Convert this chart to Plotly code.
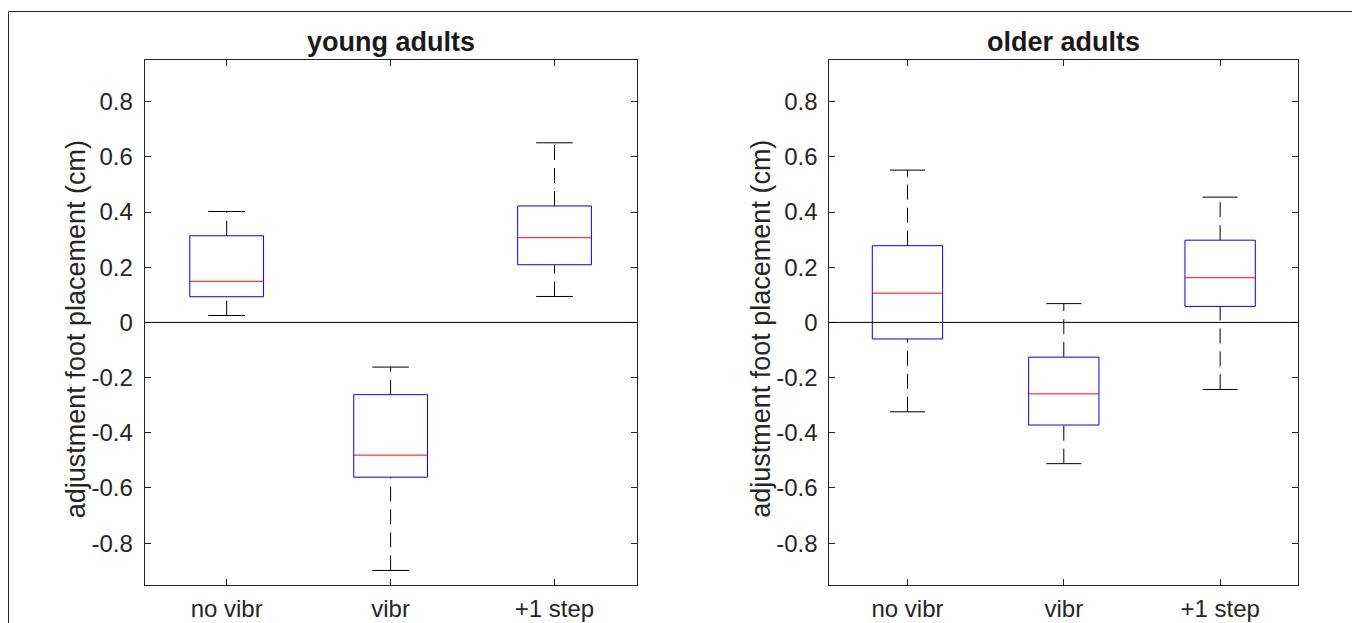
import plotly.graph_objects as go

# ---------------- data ----------------
categories = ["no vibr", "vibr", "+1 step"]
panel_titles = ["young adults", "older adults"]
y_label = "adjustment foot placement (cm)"

young_lower = [0.025, -0.899, 0.094]
young_q1 = [0.093, -0.561, 0.209]
young_median = [0.149, -0.481, 0.307]
young_q3 = [0.314, -0.262, 0.422]
young_upper = [0.402, -0.162, 0.651]

older_lower = [-0.324, -0.512, -0.243]
older_q1 = [-0.060, -0.372, 0.058]
older_median = [0.106, -0.259, 0.162]
older_q3 = [0.278, -0.126, 0.298]
older_upper = [0.552, 0.068, 0.454]

y_tick_values = [-0.8, -0.6, -0.4, -0.2, 0, 0.2, 0.4, 0.6, 0.8]
y_tick_labels = ["-0.8", "-0.6", "-0.4", "-0.2", "0", "0.2", "0.4", "0.6", "0.8"]

# ---------------- style ----------------
W, H = 1360, 623
OFF = 8  # page body margin: figure pixel = screen pixel - OFF
AX_COLOR = "#262626"
FONT = "Liberation Sans, Arial, Helvetica, sans-serif"
TICK_SIZE = 24
LABEL_SIZE = 27
BOX_HALF = 0.225
CAP_HALF = 0.112
DASH = "15px,8px"


def fx(sx):
    return (sx - OFF) / W


def fy(sy):
    return 1 - (sy - OFF) / H


panels = [
    dict(lower=young_lower, q1=young_q1, med=young_median, q3=young_q3, upper=young_upper,
         xa="x", ya="y", px0=144.7, px1=636.5),
    dict(lower=older_lower, q1=older_q1, med=older_median, q3=older_q3, upper=older_upper,
         xa="x2", ya="y2", px0=829.3, px1=1298.3),
]
py_top, py_bot = 60.3, 584.5

fig = go.Figure()

for p in panels:
    xs = list(range(1, len(categories) + 1))
    bx, by, mx, my, cx, cy = [], [], [], [], [], []
    for i, x in enumerate(xs):
        bx += [x - BOX_HALF, x + BOX_HALF, x + BOX_HALF, x - BOX_HALF, x - BOX_HALF, None]
        by += [p["q1"][i], p["q1"][i], p["q3"][i], p["q3"][i], p["q1"][i], None]
        mx += [x - BOX_HALF, x + BOX_HALF, None]
        my += [p["med"][i], p["med"][i], None]
        cx += [x - CAP_HALF, x + CAP_HALF, None, x - CAP_HALF, x + CAP_HALF, None]
        cy += [p["lower"][i], p["lower"][i], None, p["upper"][i], p["upper"][i], None]
        # whiskers (dashed), drawn upward like MATLAB
        for y0, y1 in ((p["lower"][i], p["q1"][i]), (p["q3"][i], p["upper"][i])):
            fig.add_trace(go.Scatter(x=[x, x], y=[y0, y1], mode="lines",
                                     line=dict(color="black", width=1, dash=DASH),
                                     xaxis=p["xa"], yaxis=p["ya"], hoverinfo="skip",
                                     showlegend=False))
    fig.add_trace(go.Scatter(x=cx, y=cy, mode="lines", line=dict(color="black", width=1),
                             xaxis=p["xa"], yaxis=p["ya"], hoverinfo="skip", showlegend=False))
    fig.add_trace(go.Scatter(x=bx, y=by, mode="lines", line=dict(color="#0000FF", width=1),
                             xaxis=p["xa"], yaxis=p["ya"], hoverinfo="skip", showlegend=False))
    fig.add_trace(go.Scatter(x=mx, y=my, mode="lines", line=dict(color="#FF0000", width=1),
                             xaxis=p["xa"], yaxis=p["ya"], hoverinfo="skip", showlegend=False))

axis_common = dict(
    showgrid=False, zeroline=False, showline=True, linecolor=AX_COLOR, linewidth=1,
    mirror="allticks", ticks="inside", ticklen=6, tickwidth=1, tickcolor=AX_COLOR,
    tickfont=dict(family=FONT, size=TICK_SIZE, color=AX_COLOR), fixedrange=True,
)

layout = dict(
    width=W, height=H, margin=dict(l=0, r=0, t=0, b=0),
    paper_bgcolor="white", plot_bgcolor="white", showlegend=False,
    font=dict(family=FONT, color=AX_COLOR),
    annotations=[], shapes=[],
)

for k, p in enumerate(panels):
    sfx = "" if k == 0 else str(k + 1)
    layout["xaxis" + sfx] = dict(
        axis_common, domain=[fx(p["px0"]), fx(p["px1"])], range=[0.5, 3.5],
        tickvals=list(range(1, len(categories) + 1)), ticktext=categories,
        anchor="y" + sfx, ticklabelstandoff=3,
    )
    layout["yaxis" + sfx] = dict(
        axis_common, domain=[fy(py_bot), fy(py_top)], range=[-0.95, 0.95],
        tickvals=y_tick_values, ticktext=y_tick_labels, anchor="x" + sfx,
        ticklabelstandoff=6,
    )
    # zero reference line
    layout["shapes"].append(dict(type="line", xref="x" + sfx + " domain", x0=0, x1=1,
                                 yref="y" + sfx, y0=0, y1=0,
                                 line=dict(color="black", width=1)))
    cxp = (p["px0"] + p["px1"]) / 2
    layout["annotations"].append(dict(
        text="<b>" + panel_titles[k] + "</b>", xref="paper", yref="paper",
        x=fx(cxp), y=fy(42), xanchor="center", yanchor="middle", showarrow=False,
        font=dict(family=FONT, size=LABEL_SIZE, color="#1a1a1a"),
    ))
    layout["annotations"].append(dict(
        text=y_label, xref="paper", yref="paper", textangle=-90,
        x=fx(p["px0"] - 68.5), y=fy(329), xanchor="center", yanchor="middle",
        showarrow=False, font=dict(family=FONT, size=LABEL_SIZE, color=AX_COLOR),
    ))

# outer frame (top, left, right edges visible)
layout["shapes"].append(dict(type="rect", xref="paper", yref="paper",
                             x0=fx(8.5), x1=fx(1356.5), y0=-0.05, y1=fy(11.5),
                             line=dict(color="#262626", width=1), layer="below"))

fig.update_layout(**layout)
fig.write_html("out.html")
